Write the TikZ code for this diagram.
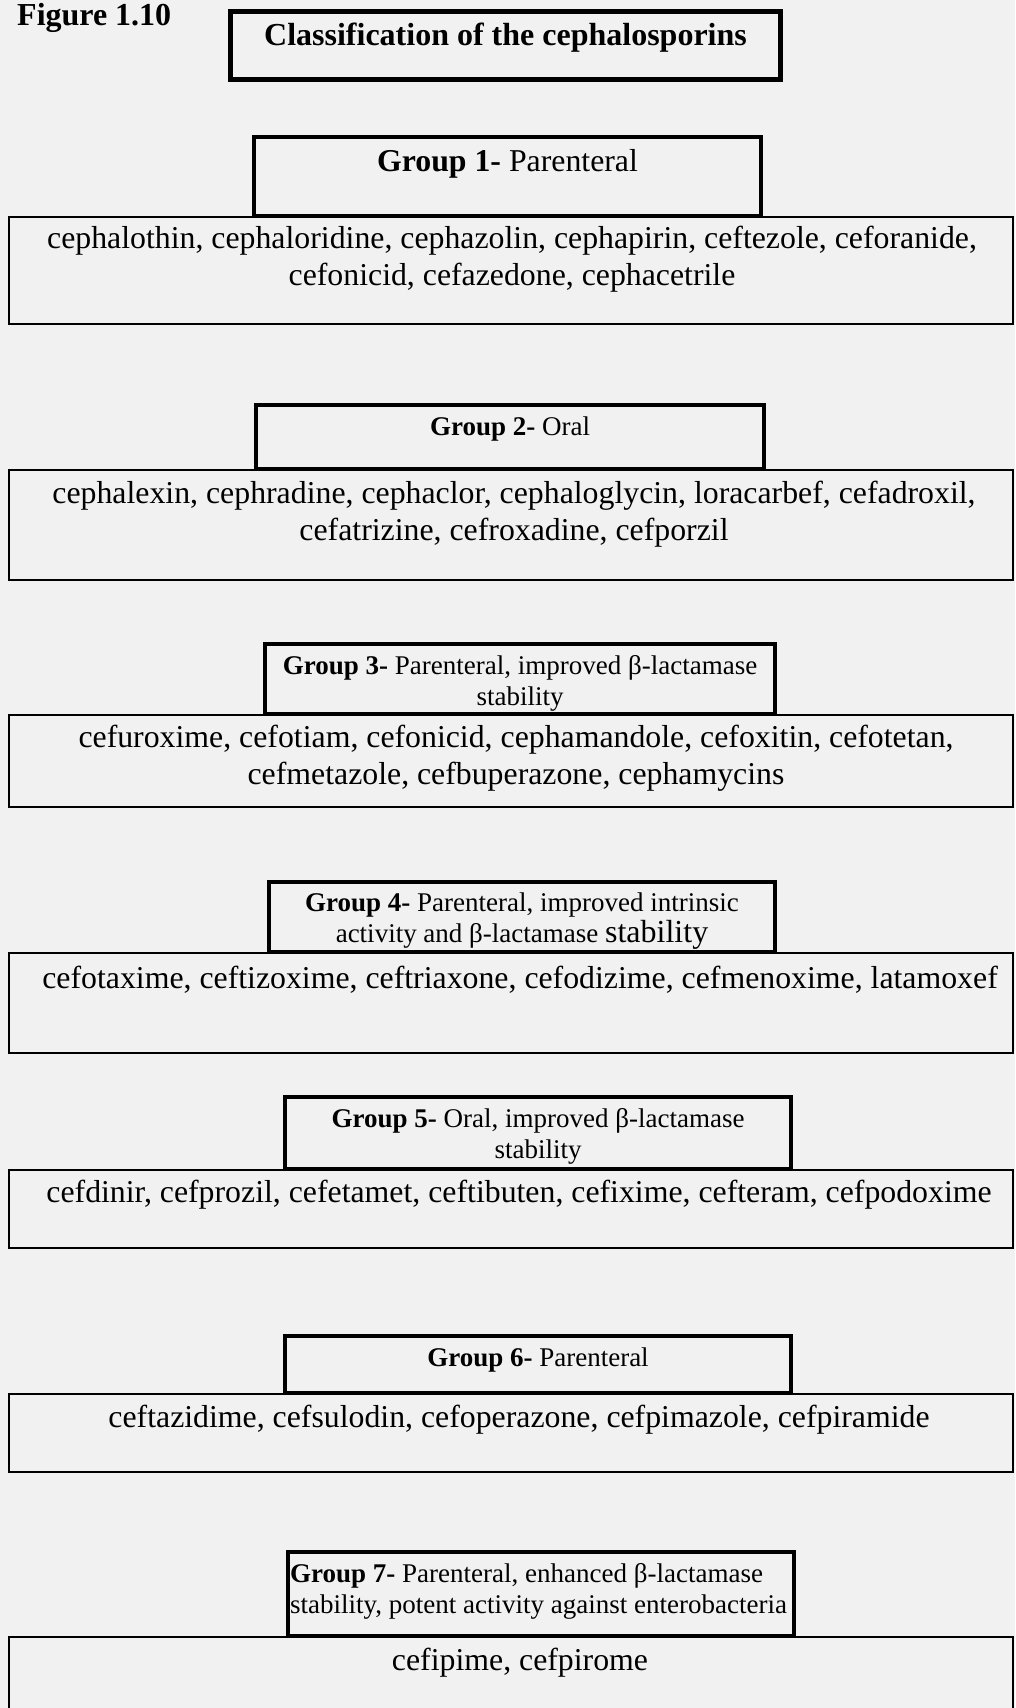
\documentclass[tikz,border=0pt]{standalone}
\usepackage{fontspec}
\setmainfont{Liberation Serif}
\definecolor{paper}{RGB}{241,241,241}
\tikzstyle{titlebox}=[draw,line width=5pt]
\tikzstyle{groupbox}=[draw,line width=4pt]
\tikzstyle{listbox}=[draw,line width=1.8pt]
\tikzstyle{bigtext}=[font=\fontsize{31.8}{37}\selectfont,align=center,inner sep=0pt]
\tikzstyle{smalltext}=[font=\fontsize{27}{31}\selectfont,align=center,inner sep=0pt]
\tikzstyle{boldtext}=[font=\bfseries\fontsize{32}{37}\selectfont,inner sep=0pt]

\begin{document}
\begin{tikzpicture}[x=1pt,y=-1pt]
	\useasboundingbox[fill=paper] (0,0) rectangle (1015,1708);
	
	\foreach \ya/\yb in {217/324,470/580,715/807,953/1053,1170/1248,1394/1472,1637/1730}
	\draw[listbox] (9,\ya) rectangle (1013,\yb);
	
	\draw[titlebox] (230.5,11.5) rectangle (780.5,79.5);
	\foreach \xa/\ya/\xb/\yb in {254/137/761/216,256/405/764/469,265/644/775/714,269/882/775/952,285/1097/791/1169,285/1336/791/1393,288/1552/794/1636}
	\draw[groupbox] (\xa,\ya) rectangle (\xb,\yb);
	
	\node[boldtext,anchor=base west] (fig) at (17,25) {Figure 1.10};
	\node[boldtext] (title) at (505.5,38) {Classification of the cephalosporins};
	
	\node[bigtext] (g1) at (507.5,164) {\textbf{Group 1-} Parenteral};
	\node[bigtext] (l1) at (512,259) {cephalothin, cephaloridine, cephazolin, cephapirin, ceftezole, ceforanide,\\cefonicid, cefazedone, cephacetrile};
	
	\node[smalltext] (g2) at (510,429) {\textbf{Group 2-} Oral};
	\node[bigtext] (l2) at (514,514.5) {cephalexin, cephradine, cephaclor, cephaloglycin, loracarbef, cefadroxil,\\cefatrizine, cefroxadine, cefporzil};
	
	\node[smalltext] (g3) at (520,683) {\textbf{Group 3-} Parenteral, improved β-lactamase\\stability};
	\node[bigtext] (l3) at (516,758.5) {cefuroxime, cefotiam, cefonicid, cephamandole, cefoxitin, cefotetan,\\cefmetazole, cefbuperazone, cephamycins};
	
	\node[smalltext] (g4) at (522,921.5) {\textbf{Group 4-} Parenteral, improved intrinsic\\activity and β-lactamase {\fontsize{32}{31}\selectfont stability}};
	\node[bigtext] (l4) at (520,979.5) {cefotaxime, ceftizoxime, ceftriaxone, cefodizime, cefmenoxime, latamoxef};
	
	\node[smalltext] (g5) at (538,1136.5) {\textbf{Group 5-} Oral, improved β-lactamase\\stability};
	\node[bigtext] (l5) at (519,1195) {cefdinir, cefprozil, cefetamet, ceftibuten, cefixime, cefteram, cefpodoxime};
	
	\node[smalltext] (g6) at (538,1359.5) {\textbf{Group 6-} Parenteral};
	\node[bigtext] (l6) at (519,1419.5) {ceftazidime, cefsulodin, cefoperazone, cefpimazole, cefpiramide};
	
	\node[smalltext,align=left,anchor=west] (g7) at (290,1591) {\textbf{Group 7-} Parenteral, enhanced β-lactamase\\stability, potent activity against enterobacteria};
	\node[bigtext] (l7) at (520,1663) {cefipime, cefpirome};
\end{tikzpicture}
\end{document}
